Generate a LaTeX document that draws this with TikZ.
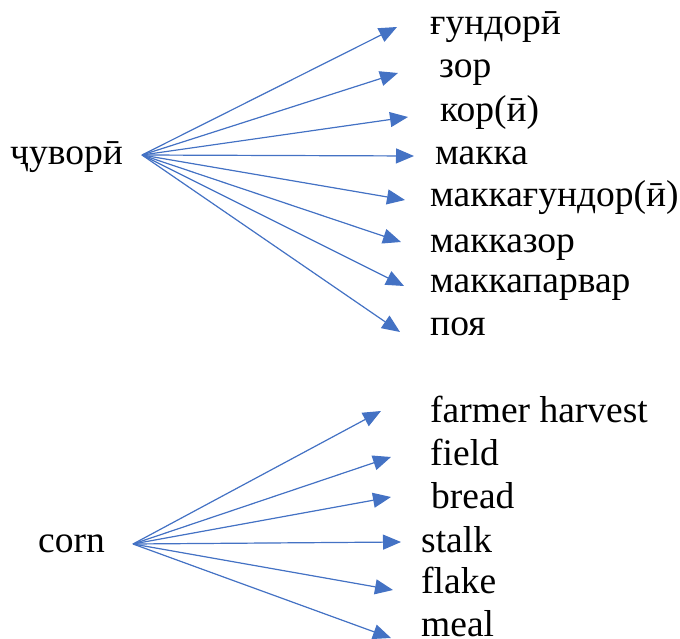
\documentclass[tikz,border=0pt]{standalone}
\usepackage{fontspec}
\setmainfont{Liberation Serif}
\usetikzlibrary{arrows.meta}
\definecolor{arrowblue}{HTML}{4472C4}
\tikzset{
  lbl/.style={anchor=base west, inner sep=0pt, font=\fontsize{37.5}{44}\selectfont},
  arr/.style={draw=arrowblue, line width=1.2pt, -{Triangle[length=18pt,width=15pt]}, fill=arrowblue}
}
\begin{document}
\begin{tikzpicture}[x=1pt,y=-1pt]
\useasboundingbox (0,0) rectangle (680,639);
% top group
\node[lbl] (src1) at (10,165) {ҷуворӣ};
\coordinate (o1) at (142,155);
\node[lbl] (t1) at (430,35) {ғундорӣ};
\node[lbl] (t2) at (439,78) {зор};
\node[lbl] (t3) at (440,122) {кор(ӣ)};
\node[lbl] (t4) at (435,165) {макка};
\node[lbl] (t5) at (430,207) {маккағундор(ӣ)};
\node[lbl] (t6) at (430,252) {макказор};
\node[lbl] (t7) at (430,292) {маккапарвар};
\node[lbl] (t8) at (430,335) {поя};
\coordinate (a1) at (397,27);
\coordinate (a2) at (398,73);
\coordinate (a3) at (408,117);
\coordinate (a4) at (414,156);
\coordinate (a5) at (405,200);
\coordinate (a6) at (401,242);
\coordinate (a7) at (404,286);
\coordinate (a8) at (400,332);
\foreach \i in {1,...,8} \draw[arr] (o1) -- (a\i);
% bottom group
\node[lbl] (src2) at (38,552) {corn};
\coordinate (o2) at (133,544);
\node[lbl] (b1) at (430,422) {farmer harvest};
\node[lbl] (b2) at (430,465) {field};
\node[lbl] (b3) at (431,508) {bread};
\node[lbl] (b4) at (421,552) {stalk};
\node[lbl] (b5) at (421,593) {flake};
\node[lbl] (b6) at (421,636) {meal};
\coordinate (c1) at (381,411);
\coordinate (c2) at (391,457);
\coordinate (c3) at (391,497);
\coordinate (c4) at (401,542);
\coordinate (c5) at (393,590);
\coordinate (c6) at (391,638);
\foreach \i in {1,...,6} \draw[arr] (o2) -- (c\i);
\end{tikzpicture}
\end{document}
